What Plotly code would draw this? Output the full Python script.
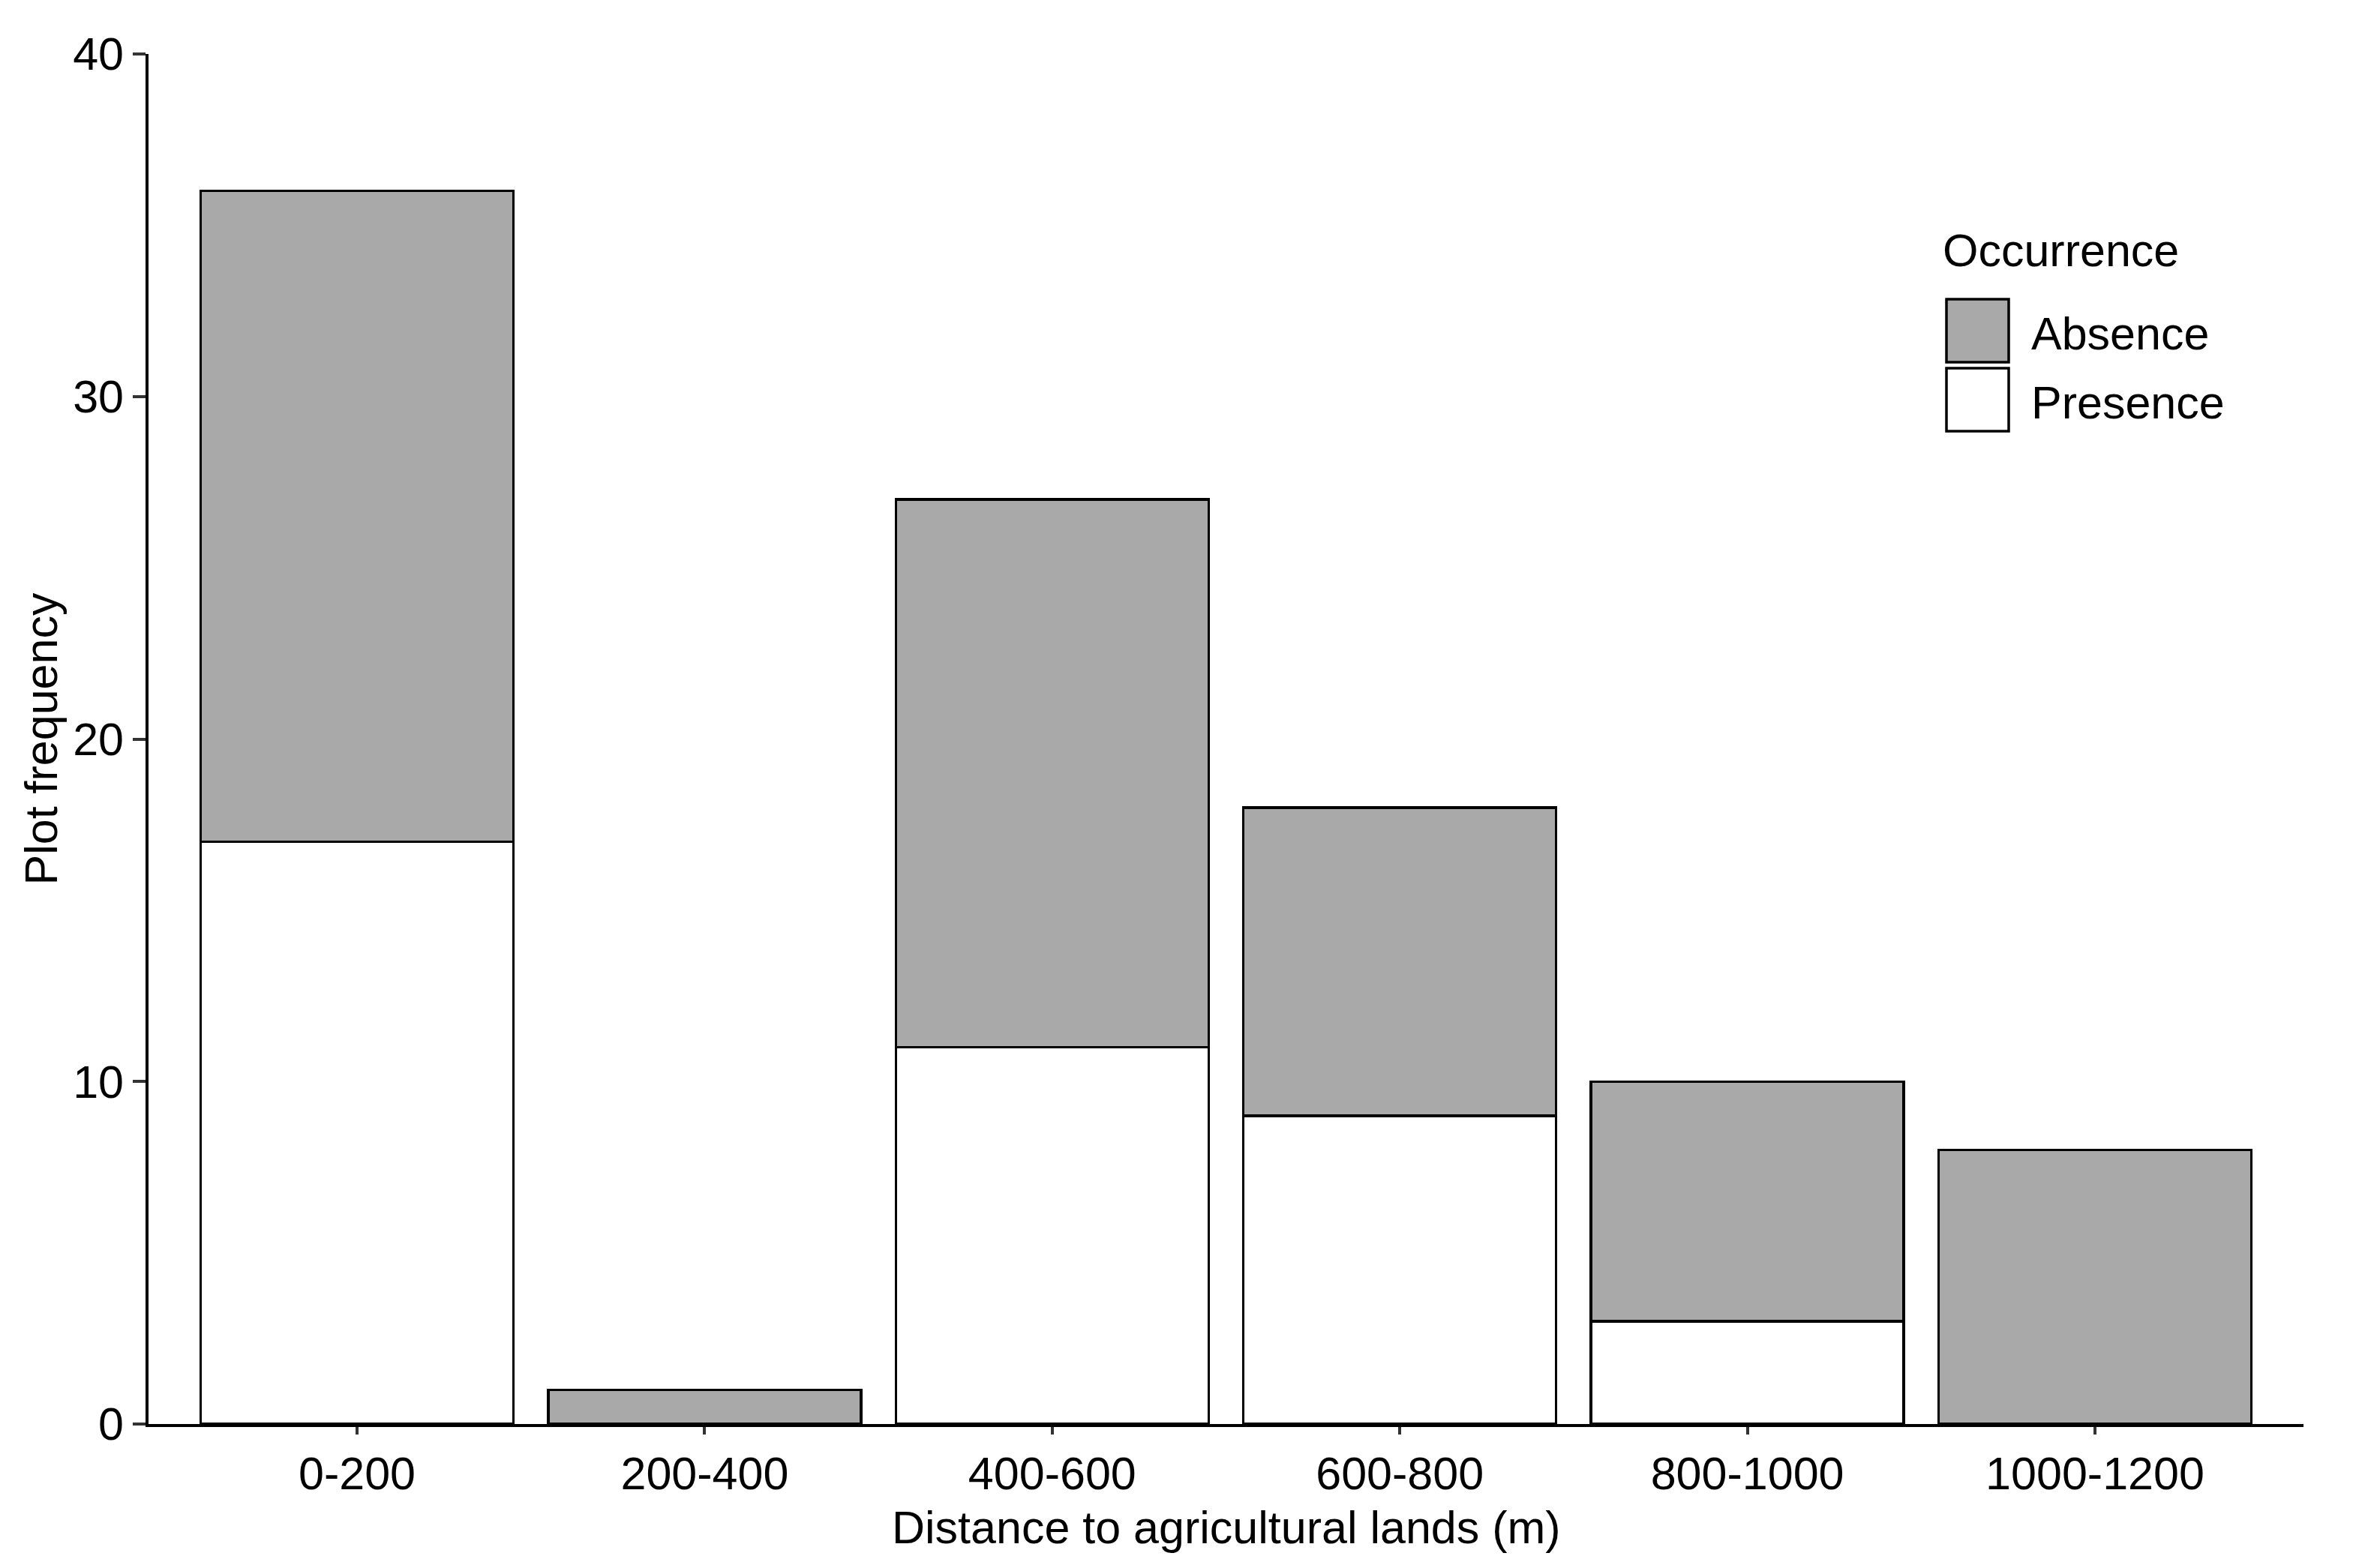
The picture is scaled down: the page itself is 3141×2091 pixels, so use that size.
import plotly.graph_objects as go

categories = ["0-200", "200-400", "400-600", "600-800", "800-1000", "1000-1200"]
presence = [17, 0, 11, 9, 3, 0]
absence = [19, 1, 16, 9, 7, 8]
y_ticks = [0, 10, 20, 30, 40]

W, H = 3141, 2091
OFF = 8  # page body offset
# target plot area on screen
X0, X1, Y0, Y1 = 198, 3071, 72, 1899
L, T = X0 - OFF, Y0 - OFF
R, B = W + OFF - X1, H + OFF - Y1
FONT = "Liberation Sans, Arial, sans-serif"
FS = 61
GRAY = "#A9A9A9"

fig = go.Figure()
fig.add_trace(go.Bar(
    x=categories, y=[v if v else None for v in presence], name="Presence",
    marker=dict(color="white", line=dict(color="black", width=3.5)), width=0.9,
))
fig.add_trace(go.Bar(
    x=categories, y=absence, name="Absence",
    marker=dict(color=GRAY, line=dict(color="black", width=3.5)), width=0.9,
))

fig.update_layout(
    width=W, height=H, barmode="stack", showlegend=False,
    paper_bgcolor="white", plot_bgcolor="white",
    margin=dict(l=L, r=R, t=T, b=B, autoexpand=False),
    font=dict(family=FONT, size=FS, color="black"),
)
fig.update_xaxes(
    range=[-0.6, 5.6], showline=True, linecolor="black", linewidth=3.5,
    ticks="outside", ticklen=10, tickwidth=3.5, tickcolor="#333333",
    showgrid=False, zeroline=False, tickfont=dict(size=FS, color="black"),
)
fig.update_yaxes(
    range=[0, 40], tickvals=y_ticks, showline=True, linecolor="black", linewidth=3.5,
    ticks="outside", ticklen=17, tickwidth=3.5, tickcolor="#333333",
    showgrid=False, zeroline=False, tickfont=dict(size=FS, color="black"),
)

pw = X1 - X0
ph = Y1 - Y0
def px(x):
    return (x - X0) / pw
def py(y):
    return (Y1 - y) / ph

# axis titles
fig.add_annotation(text="Distance to agricultural lands (m)", xref="paper", yref="paper",
                   x=0.5, y=py(2037), xanchor="center", yanchor="middle", showarrow=False,
                   font=dict(size=FS))
fig.add_annotation(text="Plot frequency", xref="paper", yref="paper",
                   x=px(54), y=0.5, xanchor="center", yanchor="middle", showarrow=False,
                   textangle=-90, font=dict(size=FS))

# legend
fig.add_annotation(text="Occurrence", xref="paper", yref="paper",
                   x=px(2588), y=py(334), xanchor="left", yanchor="middle", showarrow=False,
                   font=dict(size=FS))
legend_items = [("Absence", GRAY, 399, 483, 445), ("Presence", "white", 491, 575, 537)]
for name, col, y0, y1, yc in legend_items:
    fig.add_shape(type="rect", xref="paper", yref="paper",
                  x0=px(2595), x1=px(2678), y0=py(y1), y1=py(y0),
                  fillcolor=col, line=dict(color="black", width=3.5))
    fig.add_annotation(text=name, xref="paper", yref="paper",
                       x=px(2706), y=py(yc), xanchor="left", yanchor="middle", showarrow=False,
                       font=dict(size=FS))

fig.write_html("out.html")
